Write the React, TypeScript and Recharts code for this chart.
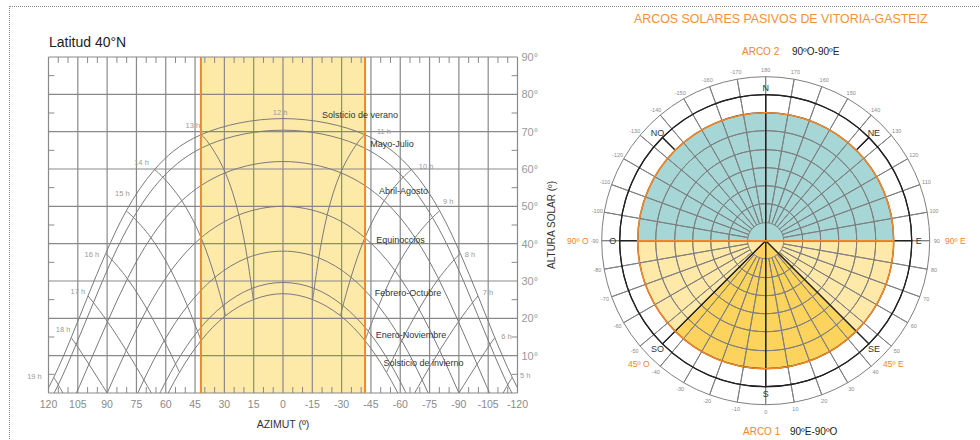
import {
  ComposedChart,
  Line,
  XAxis,
  YAxis,
  ReferenceArea,
  ReferenceLine,
  ReferenceDot,
  PieChart,
  Pie,
  Cell,
} from 'recharts';

// horas solares (4 h .. 20 h), índice 8 = 12 h
const hours = [4, 5, 6, 7, 8, 9, 10, 11, 12, 13, 14, 15, 16, 17, 18, 19, 20];

// azimut (º, + = oeste) y altura (º) de cada trayectoria, hora a hora
const azVerano = [-127.0, -117.3, -108.4, -99.8, -90.7, -80.2, -65.8, -41.9, 0, 41.9, 65.8, 80.2, 90.7, 99.8, 108.4, 117.3, 127.0];
const altVerano = [-5.5, 4.2, 14.8, 26.0, 37.4, 48.8, 59.8, 69.2, 73.5, 69.2, 59.8, 48.8, 37.4, 26.0, 14.8, 4.2, -5.5];
const azMayo = [-125.0, -115.0, -105.9, -97.0, -87.6, -76.5, -61.5, -37.6, 0, 37.6, 61.5, 76.5, 87.6, 97.0, 105.9, 115.0, 125.0];
const altMayo = [-7.8, 2.2, 13.0, 24.2, 35.7, 47.0, 57.8, 66.6, 70.4, 66.6, 57.8, 47.0, 35.7, 24.2, 13.0, 2.2, -7.8];
const azAbril = [-119.2, -108.8, -99.3, -89.8, -79.6, -67.6, -51.8, -29.5, 0, 29.5, 51.8, 67.6, 79.6, 89.8, 99.3, 108.8, 119.2];
const altAbril = [-14.0, -3.5, 7.7, 19.1, 30.6, 41.6, 51.5, 59.0, 62.0, 59.0, 51.5, 41.6, 30.6, 19.1, 7.7, -3.5, -14.0];
const azEquinoccio = [-110.4, -99.8, -90, -80.2, -69.6, -57.3, -41.9, -22.6, 0, 22.6, 41.9, 57.3, 69.6, 80.2, 90, 99.8, 110.4];
const altEquinoccio = [-22.5, -11.4, 0, 11.4, 22.5, 32.8, 41.6, 47.7, 50.0, 47.7, 41.6, 32.8, 22.5, 11.4, 0, -11.4, -22.5];
const azFebrero = [-100.4, -90.2, -80.8, -71.2, -60.8, -48.9, -34.8, -18.3, 0, 18.3, 34.8, 48.9, 60.8, 71.2, 80.8, 90.2, 100.4];
const altFebrero = [-30.6, -19.1, -7.7, 3.5, 14.0, 23.3, 31.0, 36.2, 38.0, 36.2, 31.0, 23.3, 14.0, 3.5, -7.7, -19.1, -30.6];
const azEnero = [-92.4, -83.0, -74.1, -65.0, -55.0, -43.7, -30.7, -16.0, 0, 16.0, 30.7, 43.7, 55.0, 65.0, 74.1, 83.0, 92.4];
const altEnero = [-35.7, -24.2, -13.0, -2.2, 7.8, 16.5, 23.4, 28.0, 29.6, 28.0, 23.4, 16.5, 7.8, -2.2, -13.0, -24.2, -35.7];
const azInvierno = [-89.3, -80.3, -71.6, -62.7, -53.0, -42.0, -29.4, -15.2, 0, 15.2, 29.4, 42.0, 53.0, 62.7, 71.6, 80.3, 89.3];
const altInvierno = [-37.4, -26.0, -14.8, -4.2, 5.5, 14.0, 20.7, 25.0, 26.6, 25.0, 20.7, 14.0, 5.5, -4.2, -14.8, -26.0, -37.4];

const curveNames = ['Solsticio de verano', 'Mayo-Julio', 'Abril-Agosto', 'Equinoccios', 'Febrero-Octubre', 'Enero-Noviembre', 'Solsticio de invierno'];

const azTicks = [120, 105, 90, 75, 60, 45, 30, 15, 0, -15, -30, -45, -60, -75, -90, -105, -120];
const altTicks = [0, 10, 20, 30, 40, 50, 60, 70, 80, 90];
const bandLimit = 42; // arco pasivo ±42º

// polar: tramos del disco (º) y rótulos
const arcSpans = [180, 45, 90, 45]; // N (arco 2), SO-O, SO-SE (arco 1), SE-E
const arcColors = ['#a6d6d5', '#fee9a8', '#fcd45d', '#fee9a8'];
const ringAz = [0, 10, 20, 30, 40, 50, 60, 70, 80, 90, 100, 110, 120, 130, 140, 150, 160, 170, 180, -170, -160, -150, -140, -130, -120, -110, -100, -90, -80, -70, -60, -50, -40, -30, -20, -10];
const compass = ['S', 'SE', 'E', 'NE', 'N', 'NO', 'O', 'SO'];
const ringRadii = [37, 55, 73, 91, 110];

const curves = [
  { az: azVerano, alt: altVerano },
  { az: azMayo, alt: altMayo },
  { az: azAbril, alt: altAbril },
  { az: azEquinoccio, alt: altEquinoccio },
  { az: azFebrero, alt: altFebrero },
  { az: azEnero, alt: altEnero },
  { az: azInvierno, alt: altInvierno },
];
const pathData = curves.map((c) => c.az.map((az, i) => ({ az, alt: c.alt[i] })));
const hourLines = hours
  .filter((h) => h >= 5 && h <= 19 && h !== 12)
  .map((h) => {
    const i = hours.indexOf(h);
    return { hour: h, points: curves.map((c) => ({ az: c.az[i], alt: c.alt[i] })) };
  });

// posición de los rótulos (az, alt)
const curveLabelPos = [
  [-39.4, 74.5], [-55.8, 66.7], [-61.7, 54.1], [-60.1, 41.0], [-64.0, 26.8], [-65.5, 15.5], [-71.9, 8.0],
];
const hourLabelPos: Array<[string, number, number]> = [
  ['12 h', 1.5, 75.3], ['13 h', 46.1, 71.7], ['14 h', 72.4, 61.8], ['15 h', 82.2, 53.5], ['16 h', 97.8, 37.2],
  ['17 h', 105, 27.2], ['18 h', 112.5, 17.1], ['19 h', 127.2, 4.4], ['11 h', -51.7, 70.0], ['10 h', -73.2, 60.8],
  ['9 h', -84.5, 51.4], ['8 h', -95.7, 37.2], ['7 h', -104.9, 26.9], ['6 h', -114.3, 15.3], ['5 h', -123.9, 4.7],
];

const minorAz: number[] = [];
for (let a = -115; a <= 115; a += 5) if (a % 15 !== 0) minorAz.push(a);
const minorAlt = [5, 15, 25, 35, 45, 55, 65, 75, 85];

const GRID = '#898989';
const CURVE = '#7a7a7a';
const ORANGE = '#f0872a';
const font = '"Liberation Sans", Arial, sans-serif';

const ringLabel = (radius: number, size: number, color: string) => (p: any) => {
  const rad = (-p.midAngle * Math.PI) / 180;
  const txt = p.payload?.txt ?? p.txt;
  return (
    <text
      x={p.cx + radius * Math.cos(rad)}
      y={p.cy + radius * Math.sin(rad)}
      textAnchor="middle"
      dominantBaseline="central"
      fontSize={size}
      fill={color}
    >
      {txt}
    </text>
  );
};

const PX = 205.7;
const PY = 240.7;

const PolarChart = () => (
  <PieChart width={420} height={440} margin={{ top: 0, right: 0, bottom: 0, left: 0 }}>
    <Pie data={arcSpans.map((v) => ({ v }))} dataKey="v" cx={PX} cy={PY} innerRadius={0} outerRadius={128} startAngle={0} endAngle={360} stroke="none" isAnimationActive={false}>
      {arcSpans.map((_, i) => (
        <Cell key={i} fill={arcColors[i]} />
      ))}
    </Pie>
    <Pie data={ringAz.map((a) => ({ a, v: 10 }))} dataKey="v" cx={PX} cy={PY} innerRadius={18} outerRadius={164} startAngle={0} endAngle={360} fill="none" stroke="#7f7f7f" strokeWidth={1} isAnimationActive={false} />
    {ringRadii.map((r) => (
      <Pie key={r} data={[{ v: 1 }]} dataKey="v" cx={PX} cy={PY} innerRadius={r} outerRadius={r} startAngle={0} endAngle={360} fill="none" stroke="#7f7f7f" strokeWidth={1} isAnimationActive={false} />
    ))}
    <Pie data={[90, 90, 45, 45, 45, 45].map((v) => ({ v }))} dataKey="v" cx={PX} cy={PY} innerRadius={0} outerRadius={146} startAngle={0} endAngle={360} fill="none" stroke="#222" strokeWidth={1.2} isAnimationActive={false} />
    <Pie data={[90, 270].map((v) => ({ v }))} dataKey="v" cx={PX} cy={PY} innerRadius={128} outerRadius={146} startAngle={45} endAngle={405} fill="none" stroke="#222" strokeWidth={1.2} isAnimationActive={false} />
    <Pie data={[180, 180].map((v) => ({ v }))} dataKey="v" cx={PX} cy={PY} innerRadius={0} outerRadius={128} startAngle={0} endAngle={360} fill="none" stroke={ORANGE} strokeWidth={1.6} isAnimationActive={false} />
    <Pie data={ringAz.map((a) => ({ txt: String(a), v: 10 }))} dataKey="v" cx={PX} cy={PY} innerRadius={0} outerRadius={164} startAngle={-95} endAngle={265} fill="none" stroke="none" labelLine={false} label={ringLabel(171, 5.5, '#8a8a8a')} isAnimationActive={false} />
    <Pie data={compass.map((c) => ({ txt: c, v: 45 }))} dataKey="v" cx={PX} cy={PY} innerRadius={0} outerRadius={146} startAngle={-112.5} endAngle={247.5} fill="none" stroke="none" labelLine={false} label={ringLabel(153, 9, '#333')} isAnimationActive={false} />
  </PieChart>
);

const SunPathChart = () => (
  <ComposedChart width={600} height={440} margin={{ top: 57, left: 48.5, right: 14.5, bottom: 11 }}>
    <ReferenceArea x1={bandLimit} x2={-bandLimit} fill="#fde9a8" fillOpacity={1} stroke="none" ifOverflow="visible" />
    <XAxis
      type="number"
      dataKey="az"
      domain={[-120, 120]}
      reversed
      allowDataOverflow
      ticks={azTicks}
      interval={0}
      tickLine={false}
      axisLine={false}
      tickSize={6}
      tickMargin={2}
      height={36}
      tick={{ fontSize: 10.5, fill: '#8a8a8a' }}
      label={{ value: 'AZIMUT (º)', position: 'insideBottom', offset: 1.5, fill: '#333', fontSize: 10.5 }}
    />
    <YAxis
      type="number"
      orientation="right"
      domain={[0, 90]}
      allowDataOverflow
      ticks={altTicks}
      interval={0}
      tickLine={false}
      axisLine={false}
      tickSize={0}
      tickMargin={4}
      width={68}
      tickFormatter={(v: number) => (v === 0 ? '' : `${v}°`)}
      tick={{ fontSize: 11, fill: '#999' }}
      label={{ value: 'ALTURA SOLAR (º)', angle: -90, position: 'center', fill: '#333', fontSize: 10 }}
    />
    {azTicks.map((a) => (
      <ReferenceLine key={'gx' + a} x={a} stroke={GRID} strokeWidth={1.2} />
    ))}
    {altTicks.map((h) => (
      <ReferenceLine key={'gy' + h} y={h} stroke={GRID} strokeWidth={1.2} />
    ))}
    {minorAz.map((a) => (
      <ReferenceLine key={'t' + a} segment={[{ x: a, y: 90 }, { x: a, y: 88.4 }]} stroke={GRID} />
    ))}
    {minorAz.map((a) => (
      <ReferenceLine key={'b' + a} segment={[{ x: a, y: 0 }, { x: a, y: 1.6 }]} stroke={GRID} />
    ))}
    {minorAlt.map((h) => (
      <ReferenceLine key={'l' + h} segment={[{ x: 120, y: h }, { x: 117, y: h }]} stroke={GRID} />
    ))}
    {minorAlt.map((h) => (
      <ReferenceLine key={'r' + h} segment={[{ x: -120, y: h }, { x: -117, y: h }]} stroke={GRID} />
    ))}
    {pathData.map((d, i) => (
      <Line key={curveNames[i]} data={d} dataKey="alt" type="natural" stroke={CURVE} strokeWidth={1} dot={false} activeDot={false} isAnimationActive={false} />
    ))}
    {hourLines.map((hl) => (
      <Line key={'h' + hl.hour} data={hl.points} dataKey="alt" type="natural" stroke={CURVE} strokeWidth={1} dot={false} activeDot={false} isAnimationActive={false} />
    ))}
    <ReferenceLine x={bandLimit} stroke={ORANGE} strokeWidth={2} />
    <ReferenceLine x={-bandLimit} stroke={ORANGE} strokeWidth={2} />
    {curveNames.map((n, i) => (
      <ReferenceDot key={n} x={curveLabelPos[i][0]} y={curveLabelPos[i][1]} r={0} fill="none" stroke="none" ifOverflow="visible" label={{ value: n, position: 'center', fill: '#333', fontSize: 9 }} />
    ))}
    {hourLabelPos.map(([t, x, y]) => (
      <ReferenceDot key={t} x={x} y={y} r={0} fill="none" stroke="none" ifOverflow="visible" label={{ value: t, position: 'center', fill: '#999', fontSize: 7.5 }} />
    ))}
  </ComposedChart>
);

const abs = (left: number, top: number, extra: any = {}) => ({ position: 'absolute' as const, left, top, whiteSpace: 'nowrap' as const, ...extra });

export default function App() {
  return (
    <div style={{ position: 'fixed', left: 0, top: 0, width: 980, height: 440, background: '#fff', fontFamily: font, overflow: 'hidden' }}>
      <div style={{ position: 'absolute', left: 9, top: 6, width: 971, height: 434, borderTop: '1px dotted #888', borderLeft: '1px dotted #888' }} />
      <div style={abs(49, 34, { fontSize: 14, lineHeight: '17px', color: '#222' })}>Latitud 40°N</div>
      <div style={abs(0, 0)}>
        <SunPathChart />
      </div>
      <div style={abs(560, 0)}>
        <PolarChart />
      </div>
      <div style={abs(634, 11, { fontSize: 12.4, lineHeight: '16px', color: '#f29236' })}>ARCOS SOLARES PASIVOS DE VITORIA-GASTEIZ</div>
      <div style={abs(742, 45, { fontSize: 10, lineHeight: '14px', color: ORANGE })}>ARCO 2</div>
      <div style={abs(792, 45, { fontSize: 10, lineHeight: '14px', color: '#222' })}>90ºO-90ºE</div>
      <div style={abs(743, 425, { fontSize: 10, lineHeight: '14px', color: ORANGE })}>ARCO 1</div>
      <div style={abs(790, 425, { fontSize: 10, lineHeight: '14px', color: '#222' })}>90ºE-90ºO</div>
      <div style={abs(567, 235, { fontSize: 8.5, lineHeight: '12px', color: ORANGE })}>90º O</div>
      <div style={abs(945, 235, { fontSize: 8.5, lineHeight: '12px', color: ORANGE })}>90º E</div>
      <div style={abs(628, 358, { fontSize: 8.5, lineHeight: '12px', color: ORANGE })}>45º O</div>
      <div style={abs(883, 358, { fontSize: 8.5, lineHeight: '12px', color: ORANGE })}>45º E</div>
    </div>
  );
}
